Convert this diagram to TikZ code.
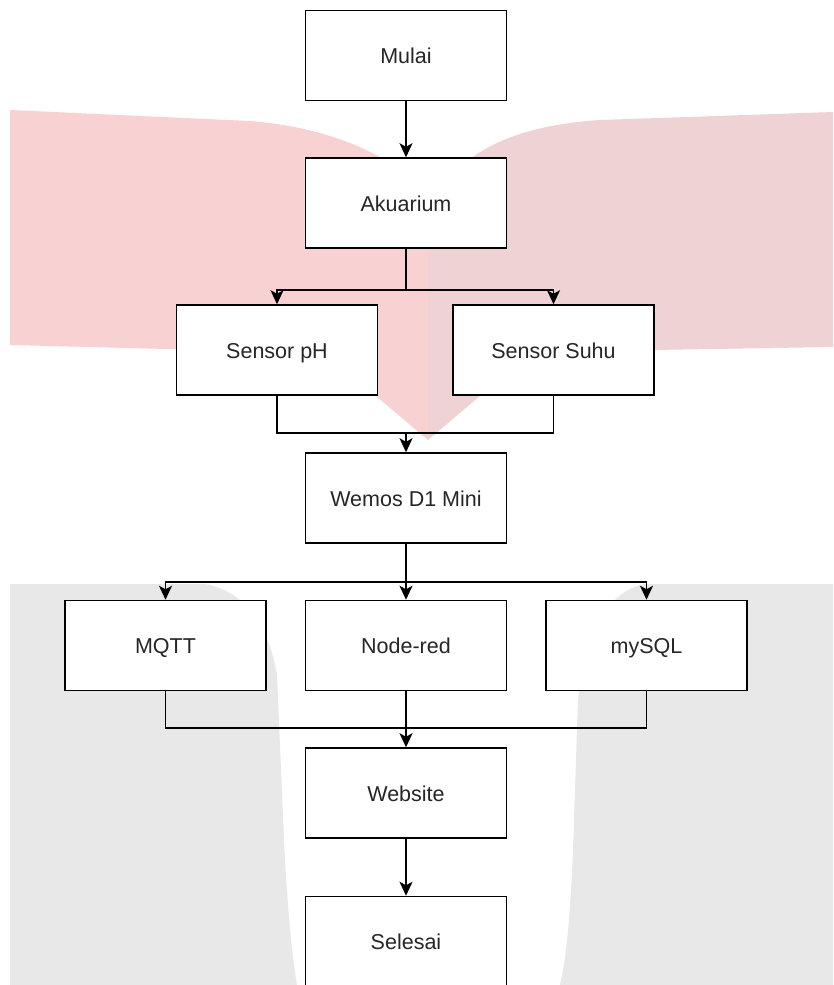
\documentclass[tikz,border=0pt]{standalone}
\usepackage{fontspec}
\setmainfont{Liberation Sans}
\usetikzlibrary{arrows.meta}
\definecolor{pinkL}{HTML}{F8D1D3}
\definecolor{pinkR}{HTML}{EED2D4}
\definecolor{wmgray}{HTML}{E8E8E8}
\tikzset{
  stepbox/.style={draw=black, fill=white, line width=1.5pt, rectangle,
    minimum width=201pt, minimum height=90pt, inner sep=0pt,
    text height=20pt, text depth=4pt,
    font=\fontsize{21.5}{25}\selectfont, text=black!85},
  link/.style={draw=black, line width=1.5pt},
  arr/.style={link, -{Stealth[length=14pt, width=13pt, inset=3.5pt]}}
}
\begin{document}
\begin{tikzpicture}[x=1pt, y=-1pt]
\useasboundingbox (0,0) rectangle (833,985);
% watermark shapes
\fill[pinkL] (10,110) -- (250,121) .. controls (300,125) and (350,138) .. (390,163) -- (428,205) -- (428,440) -- (325,353) -- (10,345) -- cycle;
\fill[pinkR] (833,112) -- (600,120) .. controls (540,124) and (495,138) .. (465,163) -- (428,205) -- (428,440) -- (532,352) -- (833,347) -- cycle;
\fill[wmgray] (10,584) -- (205,584) .. controls (240,590) and (268,620) .. (277,675) -- (284,840) .. controls (287,900) and (291,950) .. (297,985) -- (10,985) -- cycle;
\fill[wmgray] (833,584) -- (645,584) .. controls (610,590) and (585,630) .. (578,700) -- (573,850) .. controls (570,920) and (566,960) .. (560,985) -- (833,985) -- cycle;
% nodes
\node[stepbox] (mulai) at (406,55.5) {Mulai};
\node[stepbox] (aku) at (406,203) {Akuarium};
\node[stepbox] (ph) at (277,350) {Sensor pH};
\node[stepbox] (suhu) at (553.5,350) {Sensor Suhu};
\node[stepbox] (wemos) at (406,498) {Wemos D1 Mini};
\node[stepbox] (mqtt) at (165.5,645.5) {MQTT};
\node[stepbox] (nodered) at (406,645.5) {Node-red};
\node[stepbox] (mysql) at (646.5,645.5) {mySQL};
\node[stepbox] (web) at (406,793) {Website};
\node[stepbox] (selesai) at (406,941.5) {Selesai};
% junctions
\coordinate (j1) at (406,290);
\coordinate (j2) at (406,433);
\coordinate (j3) at (406,582);
\coordinate (j4) at (406,728);
% connectors
\draw[arr] (mulai) -- (aku);
\draw[link] (aku.south) -- (j1);
\draw[arr] (j1) -| (ph.north);
\draw[arr] (j1) -| (suhu.north);
\draw[link] (ph.south) |- (j2);
\draw[link] (suhu.south) |- (j2);
\draw[arr] (j2) -- (wemos.north);
\draw[link] (wemos.south) -- (j3);
\draw[arr] (j3) -| (mqtt.north);
\draw[arr] (j3) -| (mysql.north);
\draw[arr] (j3) -- (nodered.north);
\draw[link] (mqtt.south) |- (j4);
\draw[link] (mysql.south) |- (j4);
\draw[arr] (nodered.south) -- (web.north);
\draw[arr] (web) -- (selesai);
\end{tikzpicture}
\end{document}
